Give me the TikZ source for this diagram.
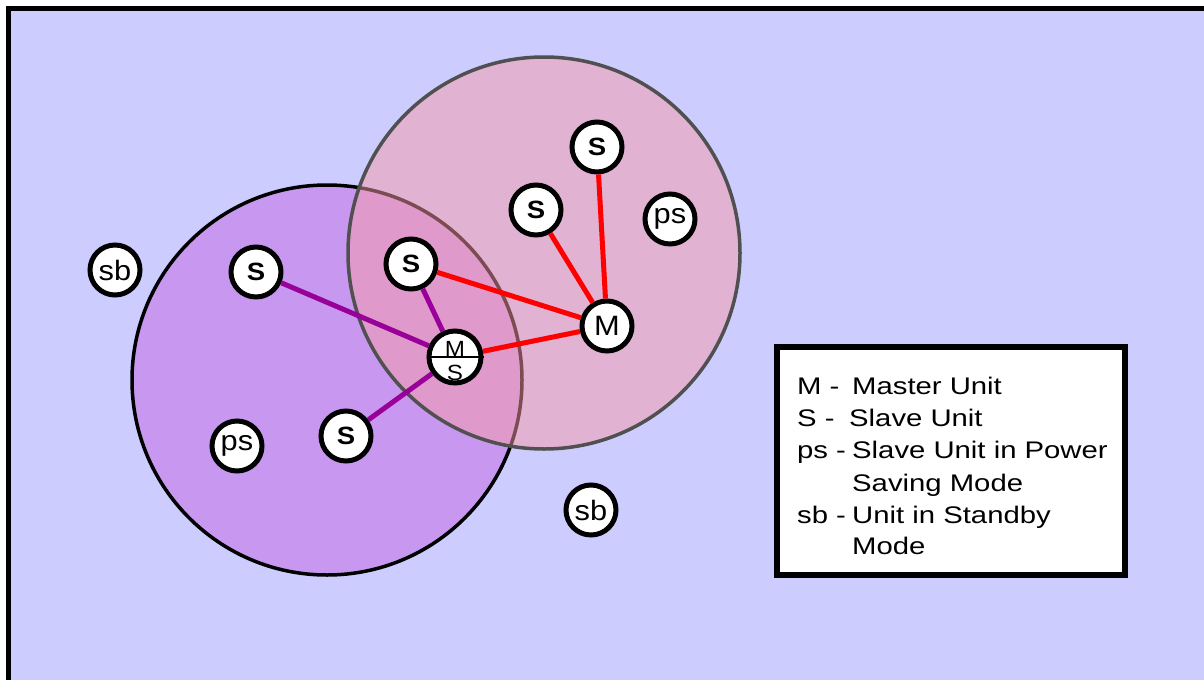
\documentclass[tikz,border=0pt]{standalone}
\usepackage{fontspec}
\setmainfont{Liberation Sans}
\newfontfamily\legfont{Liberation Sans}[FakeStretch=1.22]
\newfontfamily\nodefont{Liberation Sans}[FakeStretch=1.1]
\definecolor{bgblue}{RGB}{204,204,255}
\definecolor{circpurple}{RGB}{200,152,240}
\definecolor{pinkfill}{RGB}{246,154,167}
\definecolor{pinkedge}{RGB}{80,80,80}
\definecolor{linkpurple}{RGB}{153,0,153}
\begin{document}
\begin{tikzpicture}[x=1pt,y=-1pt,
  unit/.style={circle,draw=black,line width=5pt,fill=white,minimum size=50pt,inner sep=0pt,
    font=\nodefont\fontsize{28}{28}\selectfont},
  sunit/.style={unit,font=\nodefont\bfseries\fontsize{25}{25}\selectfont},
  redl/.style={draw=red,line width=5pt},
  purl/.style={draw=linkpurple,line width=5pt},
  mstext/.style={anchor=base,inner sep=0pt,font=\nodefont\fontsize{22}{22}\selectfont},
  legtext/.style={anchor=base west,inner sep=0pt,font=\legfont\fontsize{24}{24}\selectfont}]
\useasboundingbox (0,0) rectangle (1204,680);
% frame
\fill[white] (0,0) rectangle (1204,680);
\fill[bgblue] (8,8) rectangle (1204,680);
\draw[black,line width=5pt] (8.5,680) -- (8.5,8.5) -- (1204,8.5);
% coverage circles
\draw[fill=circpurple,draw=black,line width=3.5pt] (327,380) circle[radius=195];
\fill[pinkfill,fill opacity=0.5] (544,253) circle[radius=196];
\draw[draw=pinkedge,line width=3.5pt] (544,253) circle[radius=196];
% units
\node[sunit] (s1) at (597,147) {S};
\node[sunit] (s2) at (536,210) {S};
\node[unit] (ps1) at (670,219) {ps};
\node[sunit] (s3) at (411,264) {S};
\node[sunit] (s4) at (256,272) {S};
\node[unit] (sb1) at (115,270) {sb};
\node[unit] (m) at (607,326) {M};
\node[unit,minimum size=52pt] (ms) at (455,357) {};
\draw[black,line width=2.5pt] (ms.180) -- (ms.0);
\node[mstext] (msm) at (455,356) {M};
\node[mstext] (mss) at (455,380) {S};
\node[sunit] (s5) at (346,436) {S};
\node[unit] (ps2) at (237,446) {ps};
\node[unit] (sb2) at (591,510) {sb};
% links
\draw[redl] (s1) -- (m);
\draw[redl] (s2) -- (m);
\draw[redl] (s3) -- (m);
\draw[redl] (ms) -- (m);
\draw[purl] (s4) -- (ms);
\draw[purl] (s3) -- (ms);
\draw[purl] (s5) -- (ms);
% legend
\node[draw=black,line width=6pt,fill=white,minimum width=348pt,minimum height=228pt,inner sep=0pt] (leg) at (951,461) {};
\node[legtext] (l1a) at (797,394) {M -};
\node[legtext] (l1b) at (852,394) {Master Unit};
\node[legtext] (l2a) at (797,426) {S -};
\node[legtext] (l2b) at (849,426) {Slave Unit};
\node[legtext] (l3a) at (797,458) {ps -};
\node[legtext] (l3b) at (852,458) {Slave Unit in Power};
\node[legtext] (l4b) at (852,491) {Saving Mode};
\node[legtext] (l5a) at (797,523) {sb -};
\node[legtext] (l5b) at (852,523) {Unit in Standby};
\node[legtext] (l6b) at (852,554) {Mode};
\end{tikzpicture}
\end{document}
